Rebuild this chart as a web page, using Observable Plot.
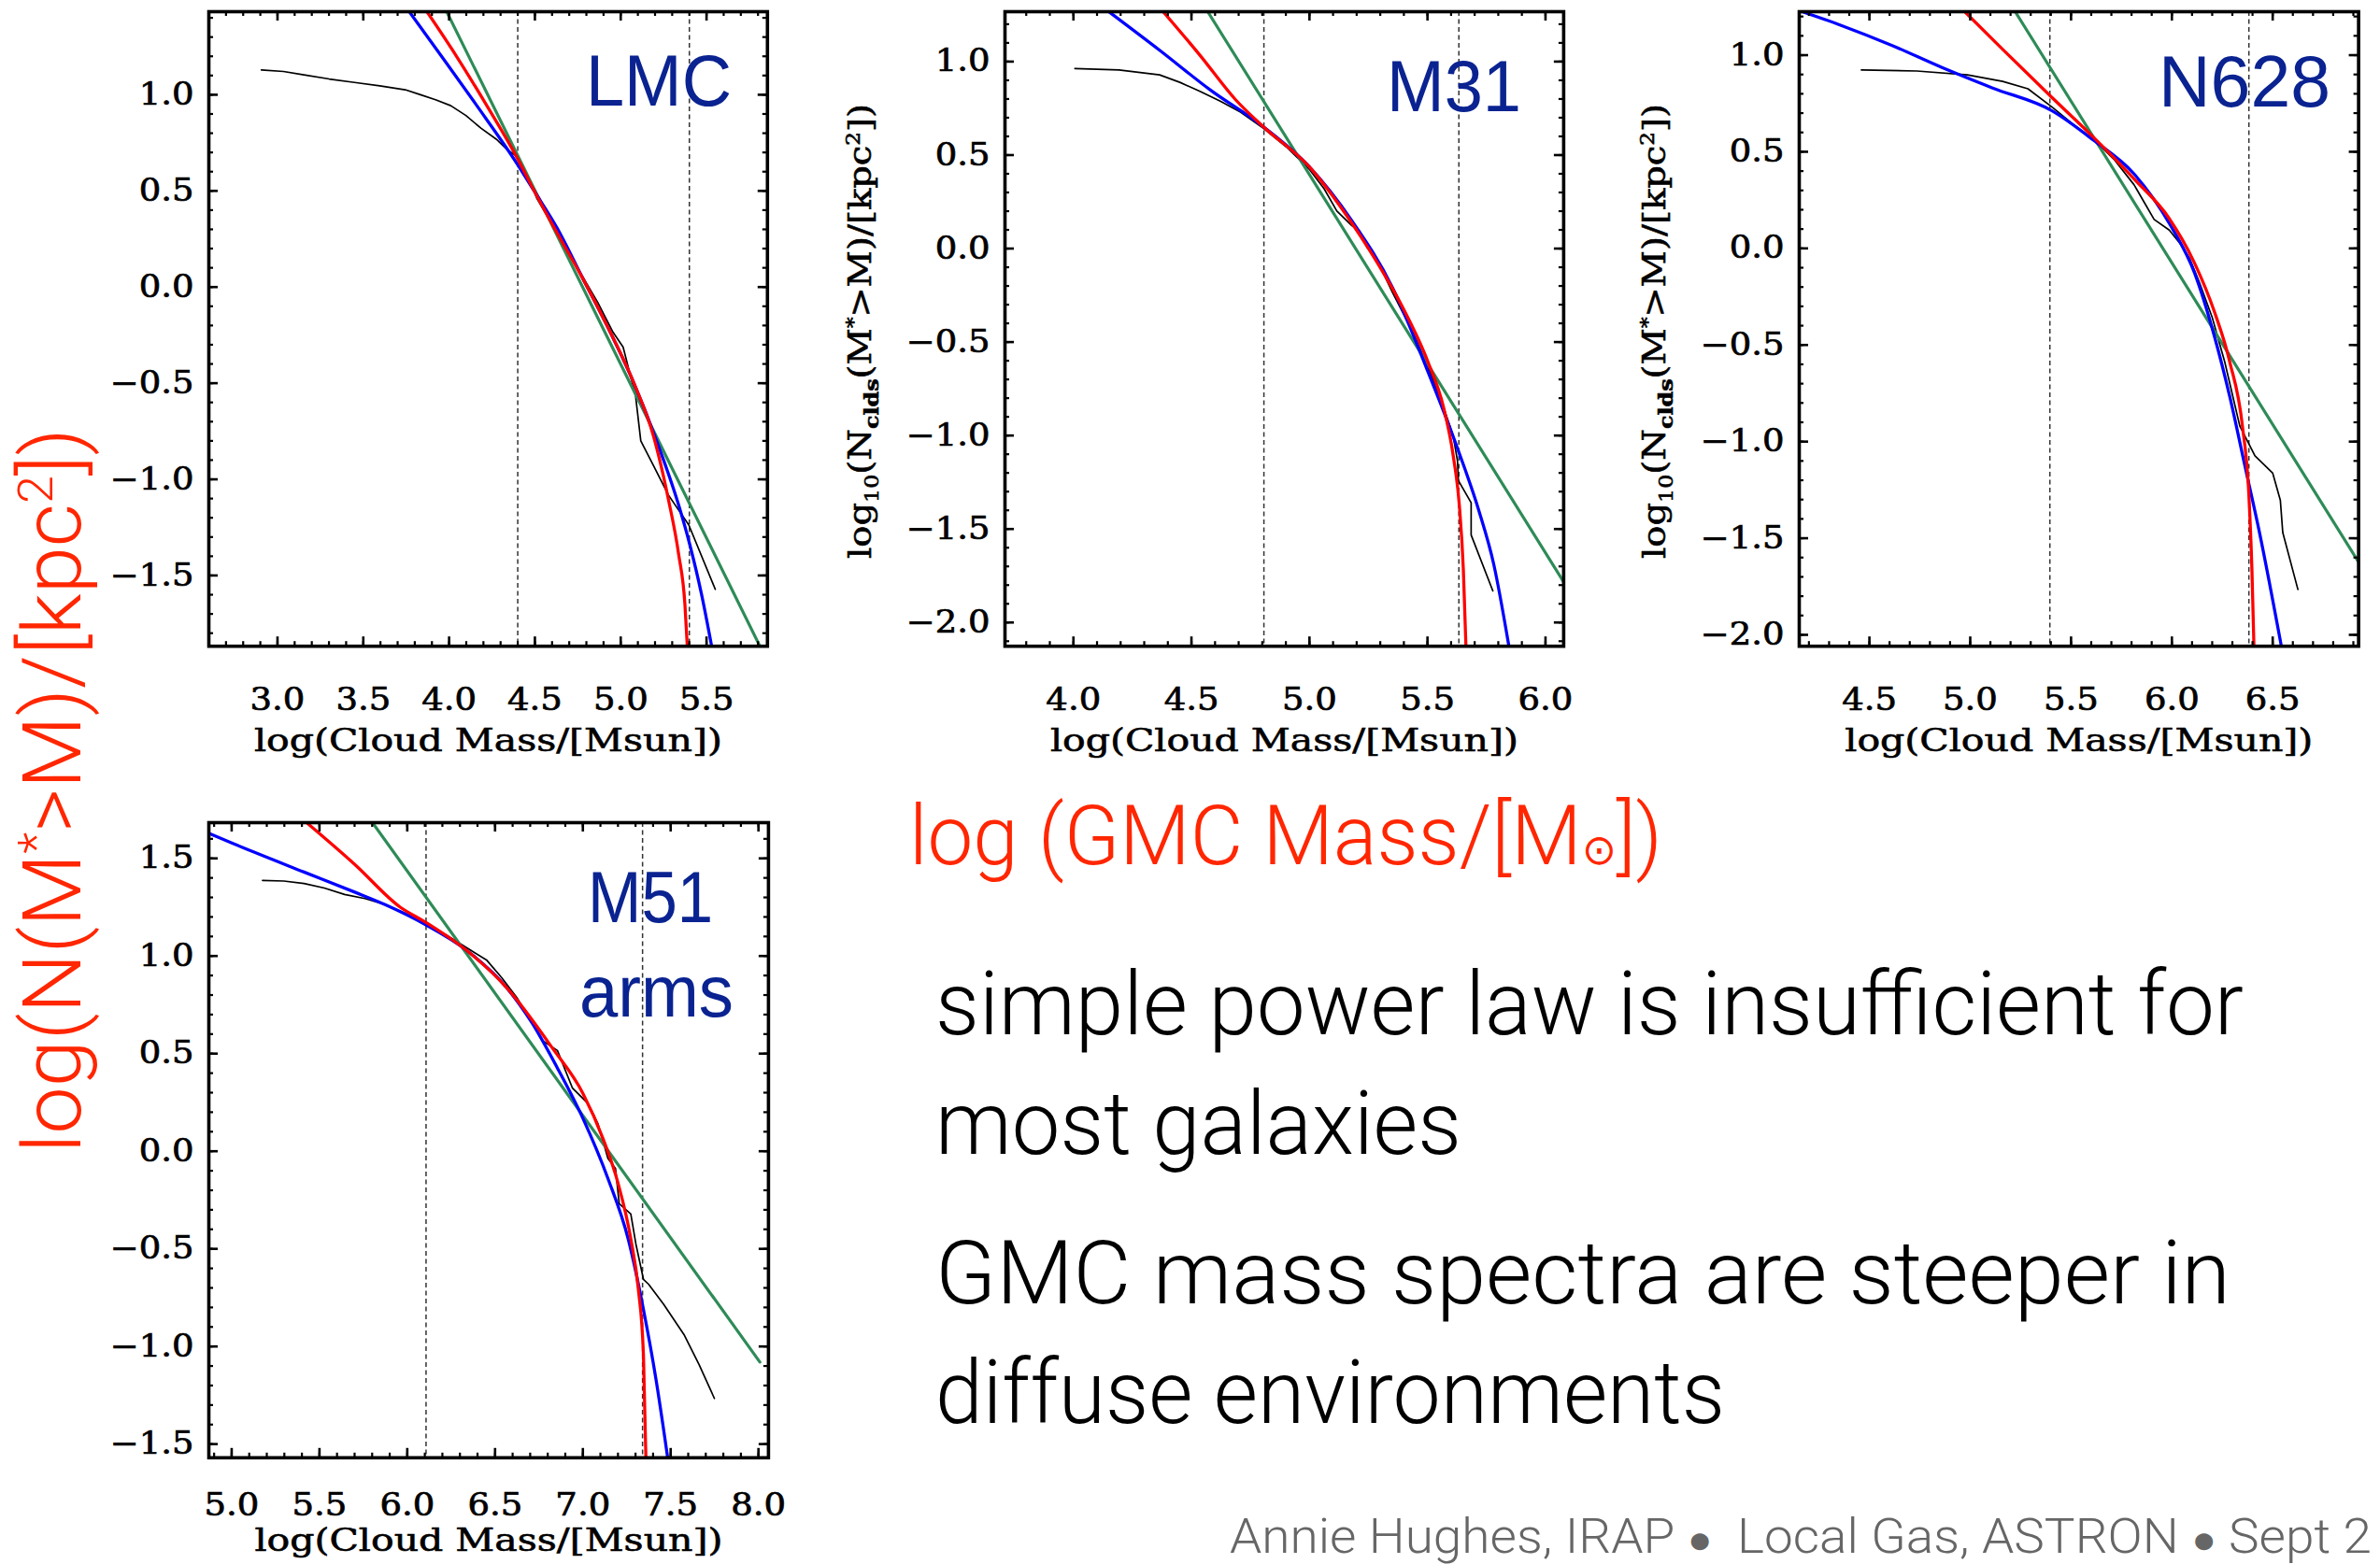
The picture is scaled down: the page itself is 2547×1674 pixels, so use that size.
<!DOCTYPE html>
<html><head><meta charset="utf-8">
<script src="https://cdn.jsdelivr.net/npm/d3@7"></script>
<script src="https://cdn.jsdelivr.net/npm/@observablehq/plot@0.6"></script>
<style>
html,body{margin:0;padding:0;background:#fff;overflow:hidden;}
#stage{position:relative;width:2547px;height:1674px;overflow:hidden;background:#fff;}
#stage svg{position:absolute;overflow:visible;}
#stage g[aria-label$="tick label"] text{stroke:#000;stroke-width:0.7px;}
#stage g[aria-label="x-axis label"] text{stroke:#000;stroke-width:0.6px;}
</style></head><body><div id="stage"></div>
<script>
// ---------------- DATA ----------------
const panelNames = ["LMC", "M31", "N628", "M51"];
const xTitle = "log(Cloud Mass/[Msun])";

// axis domains & tick labels
const lmcXDomain = [2.6, 5.855], lmcYDomain = [-1.868, 1.432];
const lmcXTicks = [3.0, 3.5, 4.0, 4.5, 5.0, 5.5], lmcYTicks = [-1.5, -1.0, -0.5, 0.0, 0.5, 1.0];
const m31XDomain = [3.71, 6.077], m31YDomain = [-2.127, 1.267];
const m31XTicks = [4.0, 4.5, 5.0, 5.5, 6.0], m31YTicks = [-2.0, -1.5, -1.0, -0.5, 0.0, 0.5, 1.0];
const n628XDomain = [4.152, 6.926], n628YDomain = [-2.059, 1.225];
const n628XTicks = [4.5, 5.0, 5.5, 6.0, 6.5], n628YTicks = [-2.0, -1.5, -1.0, -0.5, 0.0, 0.5, 1.0];
const m51XDomain = [4.87, 8.057], m51YDomain = [-1.570, 1.683];
const m51XTicks = [5.0, 5.5, 6.0, 6.5, 7.0, 7.5, 8.0], m51YTicks = [-1.5, -1.0, -0.5, 0.0, 0.5, 1.0, 1.5];

// completeness / fit-range limits (dashed)
const lmcCuts = [4.40, 5.40];
const m31Cuts = [4.807, 5.633];
const n628Cuts = [5.395, 6.382];
const m51Cuts = [6.107, 7.34];

// LMC
const lmcObs = [[2.906,1.129],[3.035,1.121],[3.154,1.103],[3.301,1.082],[3.449,1.064],[3.596,1.046],[3.744,1.026],[3.833,1.0],[3.921,0.974],[4.010,0.943],[4.098,0.892],[4.187,0.825],[4.275,0.769],[4.335,0.717],[4.397,0.678],[4.453,0.588],[4.512,0.460],[4.630,0.280],[4.748,0.100],[4.866,-0.080],[4.955,-0.235],[5.014,-0.312],[5.058,-0.466],[5.087,-0.569],[5.117,-0.800],[5.191,-0.929],[5.279,-1.083],[5.397,-1.238],[5.551,-1.572]];
const lmcTrunc = [[3.871,1.432],[4.039,1.206],[4.216,0.949],[4.397,0.671],[4.497,0.498],[4.630,0.280],[4.777,0.048],[4.925,-0.209],[5.073,-0.492],[5.191,-0.775],[5.279,-1.109],[5.338,-1.392],[5.374,-1.649],[5.388,-1.868]];
const lmcSchech = [[3.768,1.432],[3.951,1.206],[4.157,0.949],[4.397,0.640],[4.497,0.498],[4.630,0.306],[4.777,0.048],[4.925,-0.209],[5.073,-0.492],[5.220,-0.826],[5.338,-1.135],[5.403,-1.341],[5.471,-1.598],[5.530,-1.868]];
const lmcPower = [[3.986,1.432],[5.811,-1.868]];

// M31
const m31Obs = [[4.006,0.963],[4.193,0.955],[4.365,0.929],[4.451,0.889],[4.536,0.841],[4.622,0.788],[4.708,0.730],[4.805,0.643],[4.901,0.545],[4.998,0.426],[5.062,0.320],[5.116,0.201],[5.180,0.122],[5.212,0.095],[5.245,0.003],[5.277,-0.037],[5.352,-0.235],[5.438,-0.447],[5.502,-0.632],[5.567,-0.844],[5.609,-1.003],[5.627,-1.135],[5.631,-1.241],[5.685,-1.360],[5.685,-1.532],[5.777,-1.831]];
const m31Trunc = [[4.380,1.267],[4.536,1.034],[4.687,0.796],[4.805,0.651],[4.998,0.439],[5.180,0.135],[5.288,-0.077],[5.395,-0.315],[5.502,-0.606],[5.567,-0.844],[5.609,-1.108],[5.635,-1.373],[5.652,-1.717],[5.663,-2.127]];
const m31Schech = [[4.150,1.267],[4.365,1.061],[4.579,0.849],[4.805,0.651],[4.998,0.439],[5.180,0.148],[5.352,-0.209],[5.502,-0.659],[5.631,-1.082],[5.717,-1.399],[5.781,-1.690],[5.845,-2.127]];
const m31Power = [[4.569,1.267],[6.077,-1.783]];

// NGC 628
const n628Obs = [[4.460,0.923],[4.735,0.918],[4.986,0.898],[5.161,0.864],[5.286,0.826],[5.406,0.731],[5.511,0.642],[5.611,0.565],[5.712,0.462],[5.812,0.330],[5.862,0.240],[5.912,0.150],[5.987,0.095],[6.037,0.030],[6.087,-0.050],[6.137,-0.178],[6.200,-0.357],[6.262,-0.587],[6.337,-0.920],[6.412,-1.074],[6.500,-1.163],[6.538,-1.304],[6.550,-1.471],[6.625,-1.765]];
const n628Trunc = [[4.973,1.225],[5.161,1.030],[5.406,0.780],[5.611,0.575],[5.812,0.360],[5.987,0.155],[6.112,-0.075],[6.212,-0.331],[6.287,-0.587],[6.350,-0.920],[6.382,-1.279],[6.397,-1.662],[6.407,-2.059]];
const n628Schech = [[4.152,1.230],[4.360,1.154],[4.610,1.051],[4.860,0.936],[5.111,0.830],[5.406,0.712],[5.611,0.560],[5.812,0.386],[5.987,0.130],[6.112,-0.126],[6.212,-0.459],[6.287,-0.767],[6.362,-1.125],[6.437,-1.483],[6.543,-2.059]];
const n628Power = [[5.223,1.225],[6.926,-1.624]];

// M51 arms
const m51Obs = [[5.176,1.387],[5.297,1.384],[5.412,1.371],[5.528,1.348],[5.643,1.315],[5.759,1.294],[5.874,1.263],[5.989,1.219],[6.105,1.160],[6.220,1.109],[6.335,1.044],[6.451,0.980],[6.537,0.890],[6.624,0.787],[6.710,0.658],[6.768,0.568],[6.855,0.516],[6.941,0.323],[7.028,0.246],[7.085,0.143],[7.143,-0.037],[7.186,-0.089],[7.207,-0.269],[7.273,-0.321],[7.302,-0.475],[7.345,-0.656],[7.374,-0.681],[7.460,-0.784],[7.576,-0.939],[7.662,-1.093],[7.749,-1.266]];
const m51Trunc = [[5.427,1.683],[5.701,1.469],[5.960,1.250],[6.105,1.173],[6.335,1.031],[6.566,0.838],[6.826,0.529],[7.000,0.297],[7.114,0.066],[7.201,-0.166],[7.273,-0.449],[7.316,-0.707],[7.345,-1.042],[7.359,-1.570]];
const m51Schech = [[4.870,1.629],[5.124,1.533],[5.412,1.430],[5.701,1.327],[5.874,1.263],[6.105,1.160],[6.335,1.031],[6.566,0.838],[6.710,0.658],[6.855,0.426],[7.000,0.169],[7.143,-0.140],[7.258,-0.449],[7.345,-0.810],[7.417,-1.171],[7.483,-1.570]];
const m51Power = [[5.802,1.683],[8.008,-1.080]];

// ---------------- LAYOUT ----------------
const stage = document.getElementById("stage");
const fmt = d => d.toFixed(1).replace("-", "\u2212");
const SERIF = "'DejaVu Serif', serif";

const panels = [
  {frame:[223.3, 11.6, 821.1, 690.8], pad: 45, lab: 112, xd: lmcXDomain, yd: lmcYDomain, xt: lmcXTicks, yt: lmcYTicks, cuts: lmcCuts, obs: lmcObs, trunc: lmcTrunc, sch: lmcSchech, pow: lmcPower},
  {frame:[1074.9, 11.6, 1672.8, 690.8], pad: 45, lab: 112, xd: m31XDomain, yd: m31YDomain, xt: m31XTicks, yt: m31YTicks, cuts: m31Cuts, obs: m31Obs, trunc: m31Trunc, sch: m31Schech, pow: m31Power},
  {frame:[1925.3, 11.6, 2523.9, 690.8], pad: 45, lab: 112, xd: n628XDomain, yd: n628YDomain, xt: n628XTicks, yt: n628YTicks, cuts: n628Cuts, obs: n628Obs, trunc: n628Trunc, sch: n628Schech, pow: n628Power},
  {frame:[223.3, 879.5, 822.2, 1559.3], pad: 38, lab: 100, xd: m51XDomain, yd: m51YDomain, xt: m51XTicks, yt: m51YTicks, cuts: m51Cuts, obs: m51Obs, trunc: m51Trunc, sch: m51Schech, pow: m51Power}
];

function minorTicks(dom) {
  const out = [];
  for (let i = Math.ceil(dom[0] * 10 - 1e-6); i <= Math.floor(dom[1] * 10 + 1e-6); i++) out.push(i / 10);
  return out;
}

for (const p of panels) {
  const [L, T, R, B] = p.frame;
  const mL = 200, mR = 40, mT = 20, mB = 150;
  const iw = R - L, ih = B - T;
  const xm = minorTicks(p.xd), ym = minorTicks(p.yd);
  const ln = (arr, stroke, w, curve) => Plot.line(arr, {x: d => d[0], y: d => d[1], stroke, strokeWidth: w, clip: true, curve});
  const MAJ = 10, MIN = 5;
  const svg = Plot.plot({
    width: iw + mL + mR, height: ih + mT + mB,
    marginLeft: mL, marginRight: mR, marginTop: mT, marginBottom: mB,
    x: {domain: p.xd}, y: {domain: p.yd},
    style: {fontFamily: SERIF, fontSize: "33px", color: "black", background: "transparent", overflow: "visible", maxWidth: "none"},
    marks: [
      Plot.ruleX(p.cuts, {x: d => d, stroke: "#333", strokeWidth: 1.5, strokeDasharray: "5,3.5"}),
      ln(p.obs, "black", 1.7, "linear"),
      ln(p.pow, "#2e8b57", 3.2, "linear"),
      ln(p.sch, "#0000ff", 3.3, "monotone-x"),
      ln(p.trunc, "#ff0000", 3.3, "monotone-x"),
      Plot.tickX(p.xt, {x: d => d, insetTop: ih - MAJ, strokeWidth: 2.6}),
      Plot.tickX(p.xt, {x: d => d, insetBottom: ih - MAJ, strokeWidth: 2.6}),
      Plot.tickX(xm, {x: d => d, insetTop: ih - MIN, strokeWidth: 2.2}),
      Plot.tickX(xm, {x: d => d, insetBottom: ih - MIN, strokeWidth: 2.2}),
      Plot.tickY(p.yt, {y: d => d, insetRight: iw - MAJ, strokeWidth: 2.6}),
      Plot.tickY(p.yt, {y: d => d, insetLeft: iw - MAJ, strokeWidth: 2.6}),
      Plot.tickY(ym, {y: d => d, insetRight: iw - MIN, strokeWidth: 2.2}),
      Plot.tickY(ym, {y: d => d, insetLeft: iw - MIN, strokeWidth: 2.2}),
      Plot.frame({stroke: "black", strokeWidth: 3.6}),
      Plot.axisX(p.xt, {anchor: "bottom", tickSize: 0, tickPadding: p.pad, tickFormat: fmt, fontSize: 33, fontFamily: SERIF,
        label: xTitle, labelAnchor: "center", labelOffset: p.lab, labelArrow: "none"}),
      Plot.axisY(p.yt, {anchor: "left", tickSize: 0, tickPadding: 16, tickFormat: fmt, fontSize: 33, fontFamily: SERIF, label: null})
    ]
  });
  svg.style.left = (L - mL) + "px";
  svg.style.top = (T - mT) + "px";
  stage.appendChild(svg);
  // widen the tick labels & title like the original vector font
  svg.querySelectorAll('g[aria-label="x-axis tick label"] text, g[aria-label="y-axis tick label"] text').forEach(t => {
    const len = t.getComputedTextLength();
    t.setAttribute("textLength", (len * 1.12).toFixed(1));
    t.setAttribute("lengthAdjust", "spacingAndGlyphs");
  });
  svg.querySelectorAll('g[aria-label="x-axis label"] text').forEach(t => {
    t.setAttribute("textLength", "501");
    t.setAttribute("lengthAdjust", "spacingAndGlyphs");
  });
}

// ---------------- TEXT ----------------
// place html text so that its baseline start is at (x, y); stretch to width along its baseline
function addText(html, {x, y, width, font, size, weight = 400, color = "black", rotate = 0, stroke = 0}) {
  const div = document.createElement("div");
  div.style.cssText = `position:absolute;left:0;top:0;white-space:nowrap;font-family:${font};font-size:${size}px;font-weight:${weight};color:${color};line-height:1.2;` +
    (stroke ? `-webkit-text-stroke:${stroke}px ${color};` : "");
  div.innerHTML = html;
  const marker = document.createElement("span");
  marker.style.cssText = "display:inline-block;width:0;height:0;";
  div.appendChild(marker);
  stage.appendChild(div);
  const r = div.getBoundingClientRect(), m = marker.getBoundingClientRect();
  const base = m.top - r.top, w = m.left - r.left;
  const k = width ? width / w : 1;
  div.style.transformOrigin = `0px ${base}px`;
  div.style.left = x + "px";
  div.style.top = (y - base) + "px";
  div.style.transform = (rotate ? `rotate(${rotate}deg) ` : "") + `scaleX(${k})`;
  return div;
}
const LIGHT = "Roboto, 'Liberation Sans', sans-serif";
const SANS = "'Liberation Sans', Arial, sans-serif";
const NAVY = "#0a2391", RED = "#ff2600";

addText("LMC", {x: 627, y: 113, width: 156, font: SANS, size: 78, color: NAVY});
addText("M31", {x: 1484, y: 119, width: 144, font: SANS, size: 78, color: NAVY});
addText("N628", {x: 2310, y: 114, width: 184, font: SANS, size: 78, color: NAVY});
addText("M51", {x: 629, y: 987, width: 134, font: SANS, size: 78, color: NAVY});
addText("arms", {x: 620, y: 1088, width: 165, font: SANS, size: 78, color: NAVY});

const yTitleSmall = "log<sub style='font-size:0.62em'>10</sub>(N<sub style='font-size:0.62em;font-weight:bold'>clds</sub>(M<sup style='font-size:0.6em'>*</sup>&gt;M)/[kpc<sup style='font-size:0.6em'>2</sup>])";
addText(yTitleSmall, {x: 932, y: 598, width: 487, font: SERIF, size: 33, rotate: -90, stroke: 0.6});
addText(yTitleSmall, {x: 1782, y: 598, width: 487, font: SERIF, size: 33, rotate: -90, stroke: 0.6});

addText("log(N(M<sup style='font-size:0.6em'>*</sup>&gt;M)/[kpc<sup style='font-size:0.6em'>2</sup>])",
  {x: 86, y: 1234, width: 776, font: LIGHT, size: 87, weight: 300, color: RED, rotate: -90});
addText("log (GMC Mass/[M<span style='font-size:0.5em'>⊙</span>])",
  {x: 973, y: 925, width: 806, font: LIGHT, size: 89, weight: 300, color: RED});

addText("simple power law is insufficient for", {x: 1001, y: 1107, width: 1400, font: LIGHT, size: 94, weight: 300});
addText("most galaxies", {x: 1001, y: 1235, width: 563, font: LIGHT, size: 94, weight: 300});
addText("GMC mass spectra are steeper in", {x: 1001, y: 1395, width: 1386, font: LIGHT, size: 94, weight: 300});
addText("diffuse environments", {x: 1001, y: 1523, width: 845, font: LIGHT, size: 94, weight: 300});

addText("Annie Hughes, IRAP <span style='font-size:0.8em'>●</span>&nbsp; Local Gas, ASTRON <span style='font-size:0.8em'>●</span> Sept 2",
  {x: 1316, y: 1662, width: 1222, font: LIGHT, size: 52, weight: 300, color: "#666"});
</script></body></html>
